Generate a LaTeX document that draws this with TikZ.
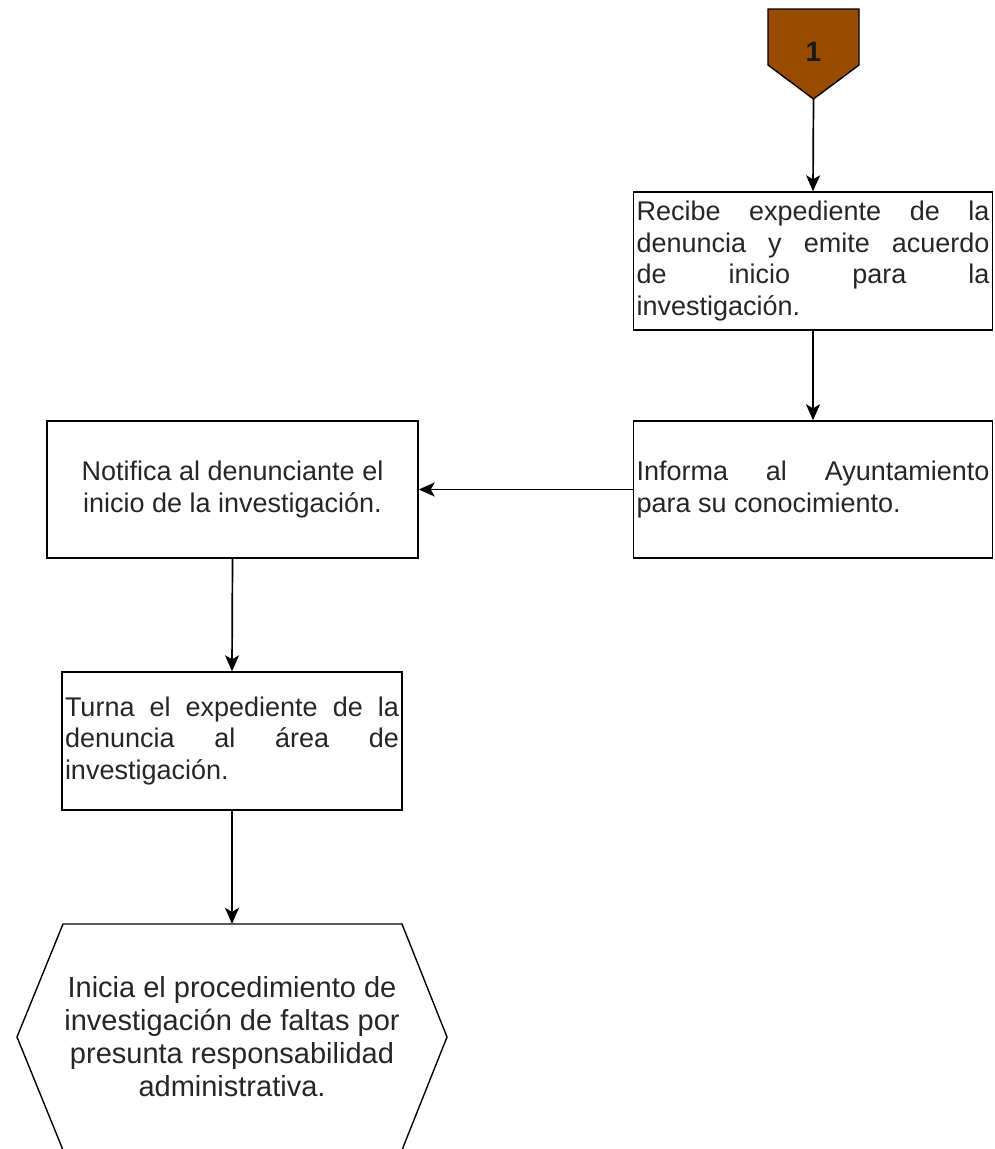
\documentclass[tikz,border=0pt]{standalone}
\usepackage{fontspec}
\setmainfont{Liberation Sans}
\usetikzlibrary{arrows.meta}
\definecolor{offbrown}{HTML}{994C00}
\hyphenpenalty=10000
\tolerance=9999
\emergencystretch=0pt
\begin{document}
\begin{tikzpicture}[x=1pt,y=-1pt,
  txt/.style={font=\fontsize{27}{31.5}\selectfont, text=black!85},
  boxline/.style={draw=black, line width=1.4pt},
  justbox/.style={boxline, txt, rectangle, inner xsep=3pt, inner ysep=0pt, align=justify},
  centbox/.style={boxline, txt, rectangle, inner sep=0pt, align=center},
  conn/.style={draw=black, line width=1.7pt, -{Stealth[length=16pt,width=14pt,inset=4pt]}}
]
\useasboundingbox (0,0) rectangle (994,1149);
\clip (0,0) rectangle (994,1149);

% off-page connector
\draw[boxline, fill=offbrown] (768,9) -- (859,9) -- (859,65) -- (813.5,99) -- (768,65) -- cycle;
\node[txt, font=\fontsize{28}{31.5}\selectfont\bfseries, text=black!90] (one) at (813.5,52) {1};
\coordinate (onetip) at (813.5,99);

\node[justbox, text width=353pt, minimum height=138pt] (recibe) at (813,261)
  {Recibe expediente de la\linebreak denuncia y emite acuerdo\linebreak de inicio para la\linebreak investigación.};

\node[justbox, text width=353pt, minimum height=137pt] (informa) at (813,489.5)
  {Informa al Ayuntamiento\linebreak para su conocimiento.};

\node[centbox, minimum width=371pt, minimum height=137pt] (notifica) at (232.5,489.5)
  {Notifica al denunciante el\\inicio de la investigación.};

\node[justbox, text width=334pt, minimum height=138pt] (turna) at (232,741)
  {Turna el expediente de la\linebreak denuncia al área de\linebreak investigación.};

\node[txt, align=center, inner sep=0pt, minimum width=430pt, minimum height=226pt,
      font=\fontsize{29}{33}\selectfont] (hex) at (232,1037)
  {Inicia el procedimiento de\\investigación de faltas por\\presunta responsabilidad\\administrativa.};
\draw[boxline] (63,924) -- (402,924) -- (447,1037) -- (402,1150) -- (63,1150) -- (17,1037) -- cycle;

\draw[conn] (onetip) -- (recibe.north);
\draw[conn] (recibe.south) -- (informa.north);
\draw[conn] (informa.west) -- (notifica.east);
\draw[conn] (notifica.south) -- (turna.north);
\draw[conn] (turna.south) -- (hex.north);
\end{tikzpicture}
\end{document}
